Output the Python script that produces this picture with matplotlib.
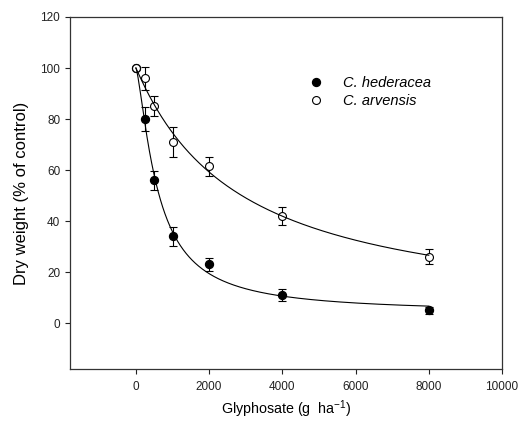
import numpy as np
import matplotlib
matplotlib.use('Agg')
import matplotlib.pyplot as plt
from matplotlib.lines import Line2D

plt.rcParams['font.family'] = ['Liberation Sans', 'DejaVu Sans']
plt.rcParams['mathtext.fontset'] = 'custom'
plt.rcParams['mathtext.rm'] = 'Liberation Sans'

# glyphosate rates (g ha-1)
rate = np.array([0, 250, 500, 1000, 2000, 4000, 8000])

# dry weight (% of control) with error bars
hed_mean = np.array([100, 80, 56, 34, 23, 11, 5])
hed_err = np.array([0, 4.8, 3.7, 3.8, 2.6, 2.4, 1.5])
arv_mean = np.array([100, 96, 85, 71, 61.5, 42, 26])
arv_err = np.array([0, 4.5, 4.0, 6.0, 3.7, 3.5, 3.0])


def fit_loglogistic(x, y):
    # y = c + (100 - c) / (1 + (x/e)^b), brute force least squares
    best = None
    for c in np.linspace(0, 20, 41):
        for e in np.geomspace(100, 8000, 160):
            b = np.linspace(0.5, 3.0, 101)[:, None]
            pred = c + (100 - c) / (1 + (x[None, :] / e) ** b)
            sse = ((pred - y[None, :]) ** 2).sum(axis=1)
            i = sse.argmin()
            if best is None or sse[i] < best[0]:
                best = (sse[i], c, e, b[i, 0])
    return best[1:]


xs = np.linspace(0, 8000, 800)

fig = plt.figure(figsize=(5.21, 4.29), dpi=100)
ax = fig.add_axes([70/521, 1 - 369/429, 432/521, 352/429])

ax.errorbar(rate, hed_mean, yerr=hed_err, fmt='o', ms=5.7, mfc='black', mec='black',
            ecolor='black', elinewidth=0.8, capsize=3, capthick=0.8, zorder=2)
ax.errorbar(rate, arv_mean, yerr=arv_err, fmt='o', ms=5.7, mfc='white', mec='black',
            mew=0.8, ecolor='black', elinewidth=0.8, capsize=3, capthick=0.8, zorder=3)

for m in (hed_mean, arv_mean):
    c, e, b = fit_loglogistic(rate, m)
    ax.plot(xs, c + (100 - c) / (1 + (xs / e) ** b), color='black', lw=0.8, zorder=4)

ax.set_xlim(-1800, 10000)
ax.set_ylim(-18, 120)
ax.set_xticks(np.arange(0, 10001, 2000))
ax.set_yticks(np.arange(0, 121, 20))
ax.tick_params(direction='out', length=3.5, width=0.8, labelsize=8.5, colors='#222222')
ax.tick_params(axis='x', pad=5)
for s in ax.spines.values():
    s.set_linewidth(0.9)
    s.set_color('#333333')

ax.set_xlabel('Glyphosate (g  ha$^{-1}$)', fontsize=10.3, labelpad=4)
ax.set_ylabel('Dry weight (% of control)', fontsize=12, labelpad=8)

handles = [
    Line2D([], [], ls='none', marker='o', ms=5.7, mfc='black', mec='black'),
    Line2D([], [], ls='none', marker='o', ms=5.7, mfc='white', mec='black', mew=0.8),
]
ax.legend(handles, ['C. hederacea', 'C. arvensis'], loc='upper left',
          bbox_to_anchor=((296 - 70) / 432, (369 - 70) / 352), frameon=False,
          prop={'style': 'italic', 'size': 10.5}, handletextpad=0.8, labelspacing=0.3,
          borderaxespad=0)

fig.savefig('out.png', dpi=100)
